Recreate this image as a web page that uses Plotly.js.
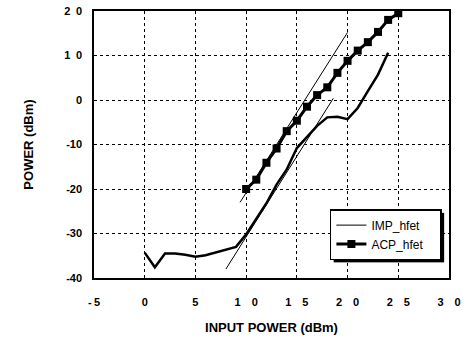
<!DOCTYPE html>
<html>
<head>
<meta charset="utf-8">
<script src="https://cdn.plot.ly/plotly-3.0.1.min.js"></script>
<style>
html,body{margin:0;padding:0;background:#fff;}
#chart{width:466px;height:350px;}
</style>
</head>
<body>
<div id="chart"></div>
<script>
// ACP_hfet measured points
const acpX = [10,11,12,13,14,15,16,17,18,19,20,21,22,23,24,25];
const acpY = [-20,-17.9,-14.1,-10.9,-7.0,-4.65,-1.5,1.1,2.85,6.1,8.8,11.1,13.0,15.3,18.0,19.5];
// lower thick curve
const imX = [0,1,2,3,4,5,6,7,8,9,10,11,12,13,14,15,16,17,18,19,20,21,22,23,24];
const imY = [-34.3,-37.6,-34.5,-34.5,-34.8,-35.2,-34.9,-34.3,-33.7,-33.0,-30.2,-26.8,-23.2,-19.0,-15.6,-10.8,-8.2,-5.8,-3.9,-3.75,-4.3,-1.8,2.0,5.7,10.6];
// thin asymptote lines (IMP_hfet)
const fitUpperX = [9.4, 20.0];
const fitUpperY = [-23.0, 15.2];
const fitLowerX = [8.0, 18.6];
const fitLowerY = [-38.0, 0.4];
// tick labels
const xTickVals = [-5,0,5,10,15,20,25,30];
const xTickText = ['-\u20095','0','5','1\u20030','1\u20035','2\u20030','2\u20035','3\u20030'];
const yTickVals = [-40,-30,-20,-10,0,10,20];
const yTickText = ['-40','-30','-20','-10','0','1\u20020','2\u20020'];

const traces = [
  {x: fitUpperX, y: fitUpperY, mode: 'lines', name: 'IMP_hfet\u2003', line: {color: '#000', width: 1}, showlegend: true},
  {x: fitLowerX, y: fitLowerY, mode: 'lines', name: 'IMP_hfet', line: {color: '#000', width: 1}, showlegend: false},
  {x: imX, y: imY, mode: 'lines', name: 'IMP', line: {color: '#000', width: 2.5}, showlegend: false},
  {x: acpX, y: acpY, mode: 'lines+markers', name: 'ACP_hfet\u2003', line: {color: '#000', width: 3}, marker: {symbol: 'square', size: 8, color: '#000'}, showlegend: true}
];

const FF = 'Liberation Sans, Arial, sans-serif';
const layout = {
  width: 466, height: 350,
  margin: {l: 94, r: 17, t: 11, b: 72},
  paper_bgcolor: '#fff', plot_bgcolor: '#fff',
  font: {family: FF, color: '#000'},
  showlegend: true,
  legend: {x: 0.980, xanchor: 'right', y: 0.067, yanchor: 'bottom', bgcolor: '#fff', bordercolor: '#000', borderwidth: 1.5,
           font: {family: FF, size: 12, color: '#000'}, tracegroupgap: 0},
  xaxis: {range: [-5, 30], tickvals: xTickVals, ticktext: xTickText, showgrid: true, gridcolor: '#000', griddash: 'dot', gridwidth: 1,
          showline: true, linecolor: '#000', linewidth: 1.5, mirror: true, zeroline: false, ticks: 'outside', ticklen: 13, tickcolor: 'rgba(0,0,0,0)',
          tickfont: {family: FF, size: 11, color: '#000', weight: 'bold'},
          title: {text: 'INPUT POWER (dBm)', standoff: 16, font: {family: FF, size: 13, color: '#000', weight: 'bold'}}},
  yaxis: {range: [-40, 20], tickvals: yTickVals, ticktext: yTickText, showgrid: true, gridcolor: '#000', griddash: 'dot', gridwidth: 1.3,
          showline: true, linecolor: '#000', linewidth: 1.5, mirror: true, zeroline: false, ticks: 'outside', ticklen: 8, tickcolor: 'rgba(0,0,0,0)',
          tickfont: {family: FF, size: 11, color: '#000', weight: 'bold'},
          title: {text: 'POWER (dBm)', standoff: 28, font: {family: FF, size: 13, color: '#000', weight: 'bold'}}}
};

function addShadow() {
  try {
    const bg = document.querySelector('#chart g.legend rect.bg');
    if (!bg) return;
    const prev = bg.previousElementSibling;
    if (prev && prev.getAttribute('class') === 'legshadow') return;
    const sh = document.createElementNS('http://www.w3.org/2000/svg', 'rect');
    sh.setAttribute('class', 'legshadow');
    sh.setAttribute('x', (parseFloat(bg.getAttribute('x')) || 0) + 3);
    sh.setAttribute('y', (parseFloat(bg.getAttribute('y')) || 0) + 3);
    sh.setAttribute('width', bg.getAttribute('width'));
    sh.setAttribute('height', bg.getAttribute('height'));
    sh.setAttribute('fill', '#000');
    bg.parentNode.insertBefore(sh, bg);
  } catch (e) {}
}
const obs = new MutationObserver(addShadow);
obs.observe(document.getElementById('chart'), {childList: true, subtree: true});
Plotly.newPlot('chart', traces, layout, {displayModeBar: false}).then(addShadow);
addShadow();
</script>
</body>
</html>
